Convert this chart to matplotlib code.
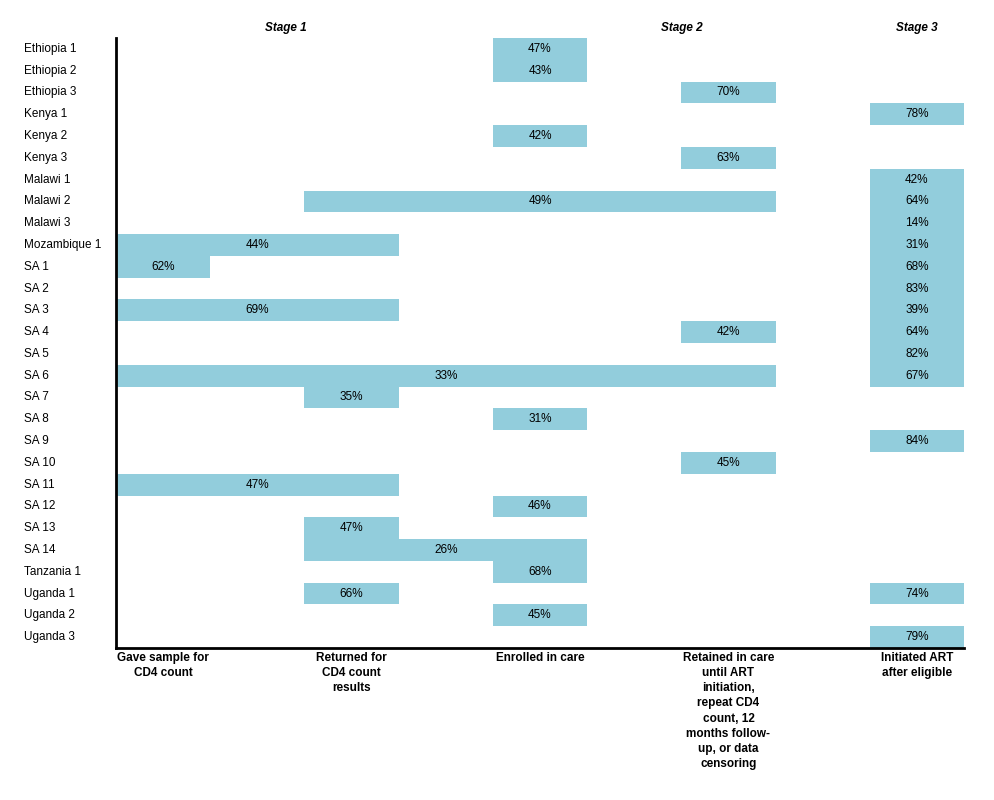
import matplotlib
matplotlib.use("Agg")
import matplotlib.pyplot as plt

rows = ["Ethiopia 1","Ethiopia 2","Ethiopia 3","Kenya 1","Kenya 2","Kenya 3","Malawi 1","Malawi 2","Malawi 3",
        "Mozambique 1","SA 1","SA 2","SA 3","SA 4","SA 5","SA 6","SA 7","SA 8","SA 9","SA 10","SA 11","SA 12",
        "SA 13","SA 14","Tanzania 1","Uganda 1","Uganda 2","Uganda 3"]
# (row, start column, end column, percent)
bar_rows   = ["Ethiopia 1","Ethiopia 2","Ethiopia 3","Kenya 1","Kenya 2","Kenya 3","Malawi 1","Malawi 2","Malawi 2",
              "Malawi 3","Mozambique 1","Mozambique 1","SA 1","SA 1","SA 2","SA 3","SA 3","SA 4","SA 4","SA 5",
              "SA 6","SA 6","SA 7","SA 8","SA 9","SA 10","SA 11","SA 12","SA 13","SA 14","Tanzania 1",
              "Uganda 1","Uganda 1","Uganda 2","Uganda 3"]
bar_start  = [4,4,6,8,4,6,8,2,8, 8,0,8,0,8,8,0,8,6,8,8, 0,8,2,4,8,6,0,4,2,2,4, 2,8,4,8]
bar_end    = [5,5,7,9,5,7,9,7,9, 9,3,9,1,9,9,3,9,7,9,9, 7,9,3,5,9,7,3,5,3,5,5, 3,9,5,9]
bar_pct    = [47,43,70,78,42,63,42,49,64, 14,44,31,62,68,83,69,39,42,64,82, 33,67,35,31,84,45,47,46,47,26,68, 66,74,45,79]
stages = ["Stage 1","Stage 2","Stage 3"]
stage_x = [1.8,6.0,8.5]
categories = ["Gave sample for\nCD4 count","Returned for\nCD4 count\nresults","Enrolled in care",
              "Retained in care\nuntil ART\ninitiation,\nrepeat CD4\ncount, 12\nmonths follow-\nup, or data\ncensoring",
              "Initiated ART\nafter eligible"]
cat_x = [0.5,2.5,4.5,6.5,8.5]

plt.rcParams['font.family'] = ['Liberation Sans','DejaVu Sans']
fig = plt.figure(figsize=(9.94,8), dpi=100)
ax = fig.add_axes([116/994, 1-648/800, (964-116)/994, (648-38)/800])
color = "#92CDDC"
for r, s, e, p in zip(bar_rows, bar_start, bar_end, bar_pct):
    y = rows.index(r)
    ax.barh(y, e-s, left=s, height=1.0, color=color, edgecolor='none')
    ax.text((s+e)/2, y, f"{p}%", ha='center', va='center', fontsize=8.5)
ax.set_xlim(0, 9)
ax.set_ylim(len(rows)-0.5, -0.5)
ax.set_xticks([]); ax.set_yticks([])
for sp in ["top","right"]:
    ax.spines[sp].set_visible(False)
ax.spines["left"].set_linewidth(2)
ax.spines["bottom"].set_linewidth(2)
for i, r in enumerate(rows):
    ax.text(-92/94.2, i, r, ha='left', va='center', fontsize=8.5)
for s, x in zip(stages, stage_x):
    ax.text(x, -0.5-10/21.8, s, ha='center', va='center', fontsize=8.5, fontweight='bold', style='italic')
for c, x in zip(categories, cat_x):
    ax.text(x, len(rows)-0.5+4/21.8, c, ha='center', va='top', fontsize=8.5, fontweight='bold', linespacing=1.35)
fig.savefig("out.png", dpi=100)
